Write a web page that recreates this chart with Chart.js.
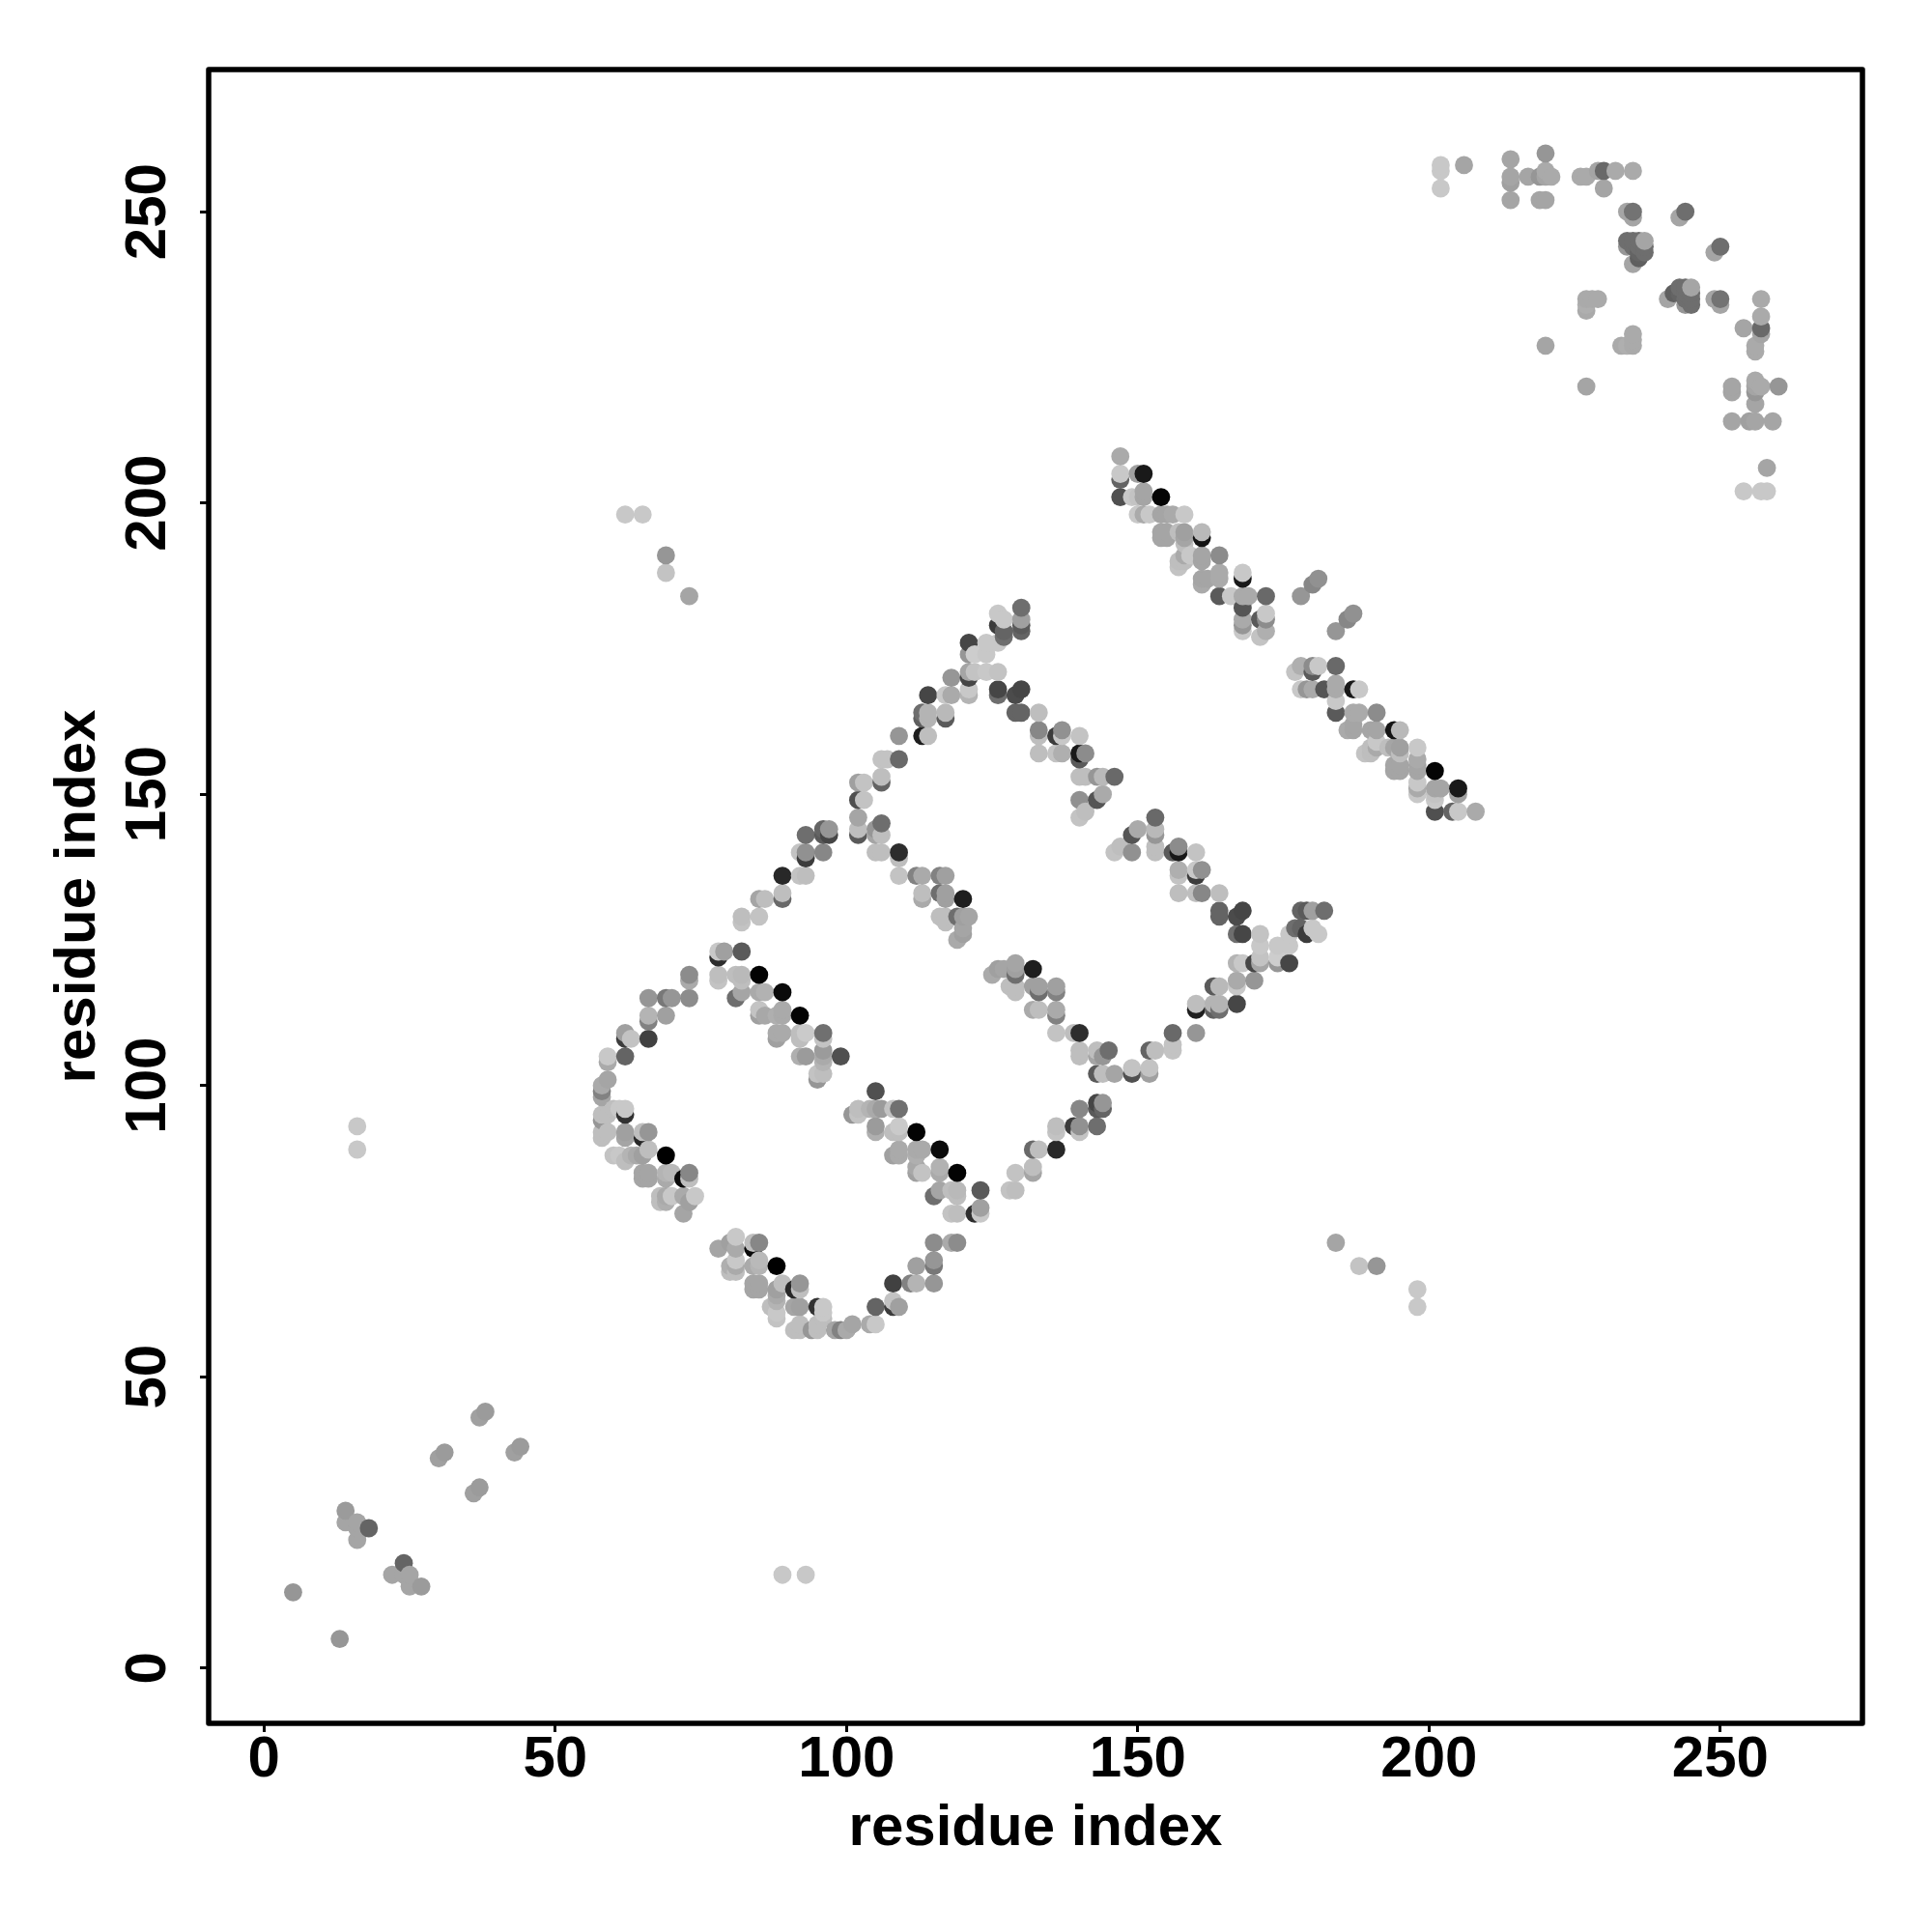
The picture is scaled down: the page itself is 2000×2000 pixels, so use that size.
<!DOCTYPE html>
<html><head><meta charset="utf-8">
<script src="https://cdn.jsdelivr.net/npm/chart.js@4"></script>
<style>html,body{margin:0;padding:0;background:#fff}canvas{display:block}</style>
</head><body><canvas id="c" width="2000" height="2000"></canvas>
<script>
// each entry: [residue i, residue j, grey level of the contact]
const tickValues = [0,50,100,150,200,250];
const axisTitle = "residue index";

const cornerUpper = [[5,13,150],[14,27,155],[14,25,165],[16,25,165],[16,24,165],[16,22,165],[18,24,100],[30,36,160],[31,37,155],[37,43,160],[38,44,155]];
const cornerLower = [[13,5,150],[27,14,155],[25,14,165],[25,16,165],[24,16,165],[22,16,165],[24,18,100],[36,30,160],[37,31,155],[43,37,160],[44,38,155]];

const outlierUpper = [[16,93,200],[16,89,200],[62,198,200],[65,198,200],[69,191,150],[69,188,195],[73,184,165]];
const outlierLower = [[93,16,200],[89,16,200],[198,62,200],[198,65,200],[191,69,150],[188,69,195],[184,73,165]];

const arcWestUpper = [[58,100,170],[58,99,130],[58,98,165],[59,101,165],[59,105,200],[59,104,170],[62,105,100],[62,109,160],[63,108,195],[62,108,60],[66,108,65],[66,111,130],[66,112,180],[69,112,160],[66,115,150],[69,115,120],[70,115,150],[73,115,140],[73,118,170],[73,119,140]];
const arcWestLower = [[100,58,170],[99,58,130],[98,58,165],[101,59,165],[105,59,200],[104,59,170],[105,62,100],[109,62,160],[108,63,195],[108,62,60],[108,66,65],[111,66,130],[112,66,180],[112,69,160],[115,66,150],[115,69,120],[115,70,150],[115,73,140],[118,73,170],[119,73,140]];

const strandOneUpper = [[58,95,190],[59,95,190],[58,94,150],[58,92,190],[58,91,190],[59,92,190],[60,96,190],[60,88,195],[61,96,200],[62,96,200],[62,95,50],[62,92,160],[62,91,165],[65,92,190],[66,92,150],[65,91,40],[66,89,190],[65,88,160],[64,88,170],[69,88,0],[61,88,200],[62,87,190],[63,88,180],[65,85,165],[66,85,165],[65,84,165],[66,84,165],[69,85,180],[70,85,185],[69,84,170],[72,84,10],[73,85,135],[73,84,190],[68,81,190],[69,81,170],[68,80,190],[69,80,175],[70,81,200],[72,81,170],[73,80,160],[74,81,200],[72,78,165]];
const strandOneLower = [[95,58,190],[95,59,190],[94,58,150],[92,58,190],[91,58,190],[92,59,190],[96,60,190],[88,60,195],[96,61,200],[96,62,200],[95,62,50],[92,62,160],[91,62,165],[92,65,190],[92,66,150],[91,65,40],[89,66,190],[88,65,160],[88,64,170],[88,69,0],[88,61,200],[87,62,190],[88,63,180],[85,65,165],[85,66,165],[84,65,165],[84,66,165],[85,69,180],[85,70,185],[84,69,170],[84,72,10],[85,73,135],[84,73,190],[81,68,190],[81,69,170],[80,68,190],[80,69,175],[81,70,200],[81,72,170],[80,73,160],[81,74,200],[78,72,165]];

const arcNorthUpper = [[82,129,190],[82,128,195],[85,132,165],[85,129,195],[86,132,190],[89,136,40],[89,133,190],[89,132,105],[92,140,195],[92,136,195],[93,143,110],[93,140,145],[93,139,60],[93,136,190],[96,144,100],[96,143,90],[96,140,135],[97,144,150],[97,143,70],[102,152,160],[103,152,195],[102,149,80],[103,149,195],[102,146,165],[102,144,190],[102,143,90],[106,156,195],[107,156,195],[109,156,105],[106,153,190],[106,152,100],[109,160,150],[113,164,110],[113,163,95],[113,160,30],[114,167,70],[114,164,180],[114,163,180],[114,160,190],[117,167,200],[117,164,185],[117,163,90],[118,170,150],[118,167,170],[121,176,70],[121,174,150],[121,171,165],[121,170,70],[121,168,200],[121,167,180],[122,174,205],[122,171,195],[124,176,200],[124,174,200],[124,171,200],[126,181,200],[126,179,60],[126,176,200],[126,171,195],[127,180,200],[127,178,100],[127,177,110],[130,182,110],[130,180,160],[130,179,90],[130,178,100]];
const arcNorthLower = [[129,82,190],[128,82,195],[132,85,165],[129,85,195],[132,86,190],[136,89,40],[133,89,190],[132,89,105],[140,92,195],[136,92,195],[143,93,110],[140,93,145],[139,93,60],[136,93,190],[144,96,100],[143,96,90],[140,96,135],[144,97,150],[143,97,70],[152,102,160],[152,103,195],[149,102,80],[149,103,195],[146,102,165],[144,102,190],[143,102,90],[156,106,195],[156,107,195],[156,109,105],[153,106,190],[152,106,100],[160,109,150],[164,113,110],[163,113,95],[160,113,30],[167,114,70],[164,114,180],[163,114,180],[160,114,190],[167,117,200],[164,117,185],[163,117,90],[170,118,150],[167,118,170],[176,121,70],[174,121,150],[171,121,165],[170,121,70],[168,121,200],[167,121,180],[174,122,205],[171,122,195],[176,124,200],[174,124,200],[171,124,200],[181,126,200],[179,126,60],[176,126,200],[171,126,195],[180,127,200],[178,127,100],[177,127,110],[182,130,110],[180,130,160],[179,130,90],[178,130,100]];

const strandTwoUpper = [[105,144,150],[106,145,110],[106,143,190],[105,143,165],[105,140,190],[106,140,190],[109,140,45],[109,139,190],[109,136,195],[112,136,130],[113,136,170],[116,136,130],[117,136,160],[113,133,190],[113,132,170],[116,133,110],[117,133,160],[117,132,160],[120,132,30],[116,129,190],[117,129,190],[117,128,190],[119,129,110],[120,129,160],[121,129,165],[120,127,165],[120,126,160],[119,125,170]];
const strandTwoLower = [[144,105,150],[145,106,110],[143,106,190],[143,105,165],[140,105,190],[140,106,190],[140,109,45],[139,109,190],[136,109,195],[136,112,130],[136,113,170],[136,116,130],[136,117,160],[133,113,190],[132,113,170],[133,116,110],[133,117,160],[132,117,160],[132,120,30],[129,116,190],[129,117,190],[128,117,190],[129,119,110],[129,120,160],[129,121,165],[127,120,165],[126,120,160],[125,119,170]];

const strandThreeUpper = [[78,123,200],[79,123,160],[78,122,45],[78,119,190],[78,118,195],[81,119,190],[82,119,185],[82,118,190],[85,119,3],[82,123,90],[82,116,165],[81,115,110],[85,116,170],[86,116,178],[89,116,10],[85,113,195],[85,112,160],[86,112,168],[88,112,175],[89,113,170],[89,112,170],[92,112,3],[88,109,170],[89,109,170],[88,108,160],[92,109,190],[93,109,202],[96,109,112],[96,108,195],[92,108,190],[92,105,175],[93,105,155],[96,106,155],[96,105,170],[96,104,180],[96,102,190],[95,102,195],[95,101,150],[99,105,80]];
const strandThreeLower = [[123,78,200],[123,79,160],[122,78,45],[119,78,190],[118,78,195],[119,81,190],[119,82,185],[118,82,190],[119,85,3],[123,82,90],[116,82,165],[115,81,110],[116,85,170],[116,86,178],[116,89,10],[113,85,195],[112,85,160],[112,86,168],[112,88,175],[113,89,170],[112,89,170],[112,92,3],[109,88,170],[109,89,170],[108,88,160],[109,92,190],[109,93,202],[109,96,112],[108,96,195],[108,92,190],[105,92,175],[105,93,155],[106,96,155],[105,96,170],[104,96,180],[102,96,190],[102,95,195],[101,95,150],[105,99,80]];

const strandFourUpper = [[126,168,70],[126,167,110],[129,167,75],[130,168,70],[129,164,100],[130,164,100],[133,164,190],[133,161,135],[133,160,190],[136,160,60],[137,161,145],[137,160,200],[140,160,195],[133,157,190],[136,157,195],[137,157,175],[140,157,25],[140,156,90],[141,157,140],[140,153,190],[141,153,190],[143,153,150],[144,153,185],[146,153,105],[140,149,145],[143,149,85],[144,150,170],[141,147,190],[140,146,195]];
const strandFourLower = [[168,126,70],[167,126,110],[167,129,75],[168,130,70],[164,129,100],[164,130,100],[164,133,190],[161,133,135],[160,133,190],[160,136,60],[161,137,145],[160,137,200],[160,140,195],[157,133,190],[157,136,195],[157,137,175],[157,140,25],[156,140,90],[157,141,140],[153,140,190],[153,141,190],[153,143,150],[153,144,185],[153,146,105],[149,140,145],[149,143,85],[150,144,170],[147,141,190],[146,140,195]];

const strandFiveUpper = [[147,208,170],[147,205,200],[147,204,100],[150,205,160],[151,205,25],[147,201,80],[149,201,200],[150,201,195],[151,202,165],[151,201,165],[154,201,5],[150,198,200],[151,198,170],[152,198,200],[154,198,165],[155,198,165],[156,198,170],[158,198,200],[154,195,165],[154,194,165],[155,195,165],[155,194,165],[157,195,190],[158,195,160],[158,194,165],[158,193,190],[158,191,170],[161,195,185],[161,194,20],[157,190,190],[158,190,190],[157,189,195],[159,191,200],[161,191,165],[161,190,165],[164,191,140],[161,187,165],[161,186,170],[162,187,165],[164,188,170],[164,187,170],[168,188,200],[168,187,25],[164,184,90],[166,184,200],[168,184,170],[169,184,170],[172,184,105],[168,182,85],[168,180,170],[168,179,150],[168,178,200],[171,180,90],[172,181,200],[172,180,140],[172,178,175],[171,177,195],[178,184,150],[180,186,135],[181,187,145]];
const strandFiveLower = [[208,147,170],[205,147,200],[204,147,100],[205,150,160],[205,151,25],[201,147,80],[201,149,200],[201,150,195],[202,151,165],[201,151,165],[201,154,5],[198,150,200],[198,151,170],[198,152,200],[198,154,165],[198,155,165],[198,156,170],[198,158,200],[195,154,165],[194,154,165],[195,155,165],[194,155,165],[195,157,190],[195,158,160],[194,158,165],[193,158,190],[191,158,170],[195,161,185],[194,161,20],[190,157,190],[190,158,190],[189,157,195],[191,159,200],[191,161,165],[190,161,165],[191,164,140],[187,161,165],[186,161,170],[187,162,165],[188,164,170],[187,164,170],[188,168,200],[187,168,25],[184,164,90],[184,166,200],[184,168,170],[184,169,170],[184,172,105],[182,168,85],[180,168,170],[179,168,150],[178,168,200],[180,171,90],[181,172,200],[180,172,140],[178,172,175],[177,171,195],[184,178,150],[186,180,135],[187,181,145]];

const crownUpper = [[202,258,200],[202,257,200],[202,254,200],[206,258,165],[214,259,165],[214,256,165],[214,255,160],[214,252,165],[220,260,150],[220,252,165],[219,252,165],[217,256,165],[220,257,170],[221,256,170],[219,256,150],[220,256,165],[226,256,170],[227,256,170],[229,257,165],[230,257,105],[232,257,170],[235,257,170],[230,254,165],[234,250,165],[235,250,115],[235,249,165],[243,249,165],[244,250,110],[234,245,110],[235,245,110],[236,245,110],[237,245,165],[234,244,150],[235,244,110],[236,244,110],[237,244,110],[236,243,100],[237,243,110],[236,242,95],[235,241,165],[227,235,170],[228,235,170],[229,235,170],[227,234,175],[227,233,170],[220,227,165]];
const crownLower = [[258,202,200],[257,202,200],[254,202,200],[258,206,165],[259,214,165],[256,214,165],[255,214,160],[252,214,165],[260,220,150],[252,220,165],[252,219,165],[256,217,165],[257,220,170],[256,221,170],[256,219,150],[256,220,165],[256,226,170],[256,227,170],[257,229,165],[257,230,105],[257,232,170],[257,235,170],[254,230,165],[250,234,165],[250,235,115],[249,235,165],[249,243,165],[250,244,110],[245,234,110],[245,235,110],[245,236,110],[245,237,165],[244,234,150],[244,235,110],[244,236,110],[244,237,110],[243,236,100],[243,237,110],[242,236,95],[241,235,165],[235,227,170],[235,228,170],[235,229,170],[234,227,175],[233,227,170],[227,220,165]];

const contacts = [].concat(cornerUpper,cornerLower,outlierUpper,outlierLower,arcWestUpper,arcWestLower,strandOneUpper,strandOneLower,arcNorthUpper,arcNorthLower,strandTwoUpper,strandTwoLower,strandThreeUpper,strandThreeLower,strandFourUpper,strandFourLower,strandFiveUpper,strandFiveLower,crownUpper,crownLower)
  .sort((a,b)=>a[0]-b[0]||a[1]-b[1]);

const FONT = "'Liberation Sans', Arial, sans-serif";
const framePlugin = {id:'frame',afterDraw(chart){
  const a=chart.chartArea,ctx=chart.ctx;
  ctx.save();ctx.strokeStyle='#000';ctx.lineWidth=5.5;ctx.lineJoin='round';
  ctx.strokeRect(a.left,a.top,a.right-a.left,a.bottom-a.top);ctx.restore();
}};
function axis(fit,rot,titlePad,tickPad,cross){return {
  type:'linear',min:-9.5,max:274.4,
  afterBuildTicks(s){s.ticks=tickValues.map(v=>({value:v}));},
  afterFit:fit,
  border:{display:false},
  grid:{display:true,drawOnChartArea:false,drawTicks:true,tickLength:9,tickWidth:3,tickColor:'#000'},
  ticks:{autoSkip:false,minRotation:rot,maxRotation:rot,padding:tickPad,crossAlign:cross,color:'#000',font:{family:FONT,weight:'bold',size:60},callback:v=>String(v)},
  title:{display:true,text:axisTitle,color:'#000',padding:titlePad,font:{family:FONT,weight:'bold',size:60}}
};}
new Chart(document.getElementById('c'),{
  type:'scatter',
  data:{datasets:[{
    data:contacts.map(c=>({x:c[0],y:c[1]})),
    pointRadius:9.4,pointBorderWidth:0,
    pointBackgroundColor:contacts.map(c=>`rgb(${c[2]},${c[2]},${c[2]})`)
  }]},
  options:{
    responsive:false,animation:false,devicePixelRatio:1,
    layout:{padding:{left:0,top:72,right:72,bottom:0}},
    plugins:{legend:{display:false},tooltip:{enabled:false},title:{display:false}},
    events:[],
    scales:{
      x:axis(s=>{s.height=216;},0,{top:0,bottom:71},-7,'near'),
      y:axis(s=>{s.width=216;},90,{top:45,bottom:0},2,'center')
    }
  },
  plugins:[framePlugin]
});
</script></body></html>
